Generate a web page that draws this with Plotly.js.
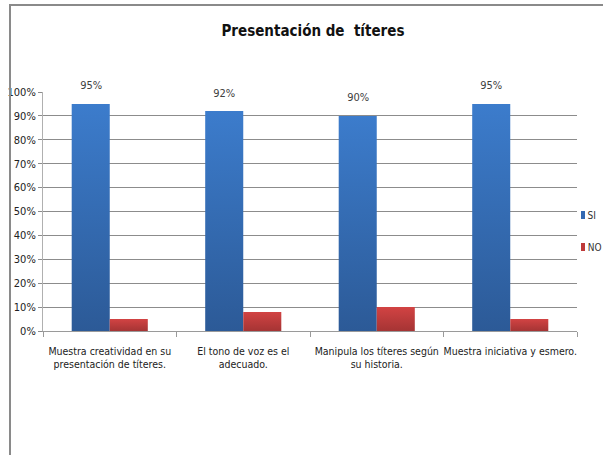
<!DOCTYPE html>
<html><head><meta charset="utf-8">
<script src="https://cdn.plot.ly/plotly-3.0.1.min.js"></script>
<style>
html,body{margin:0;padding:0;background:#fff;overflow:hidden}
#chart{width:603px;height:455px}
#chart text{font-stretch:condensed !important}
#frame{position:absolute;left:9px;top:4px;width:620px;height:470px;border-top:2px solid #8a8a8a;border-left:2px solid #8a8a8a;pointer-events:none}
</style></head>
<body>
<div id="chart"></div>
<div id="frame"></div>
<script>
var categories = [
  "Muestra creatividad en su<br>presentación de títeres.",
  "El tono de voz es el<br>adecuado.",
  "Manipula los títeres según<br>su historia.",
  "Muestra iniciativa y esmero."
];
var siValues = [0.95, 0.92, 0.90, 0.95];
var noValues = [0.05, 0.08, 0.10, 0.05];
var siLabels = ["95%", "92%", "90%", "95%"];
var seriesNames = ["SI", "NO"];
var seriesColors = ["#3469B2", "#BE3A3A"];
var gradTop = ["#3C7CCC", "#D24343"];
var gradBottom = ["#2C5A97", "#A53434"];
var titleText = "Presentación de\u00A0 títeres";

var FONT = '"DejaVu Sans", sans-serif';

var traces = [
  {type:'bar', x:categories, y:siValues, name:seriesNames[0],
   marker:{color:seriesColors[0]}, hoverinfo:'none'},
  {type:'bar', x:categories, y:noValues, name:seriesNames[1],
   marker:{color:seriesColors[1]}, hoverinfo:'none'}
];

// pixel -> paper helpers for the legend keys (plot area 43..577 x 92..331)
function px(x){ return (x - 43) / 534; }
function py(y){ return (331 - y) / 239; }

var annotations = categories.map(function(c, i){
  return {x:c, y:siValues[i], xref:'x', yref:'y', text:siLabels[i], showarrow:false,
    xshift:-19, yshift:18, font:{family:FONT, size:11, color:'#404040'}};
});
var legendY = [215, 247];
var shapes = [];
seriesNames.forEach(function(n, i){
  shapes.push({type:'rect', xref:'paper', yref:'paper', x0:px(581), x1:px(585),
    y0:py(legendY[i]-4), y1:py(legendY[i]+4), fillcolor:seriesColors[i], line:{width:0}});
  annotations.push({xref:'paper', yref:'paper', x:px(585), y:py(legendY[i]), xanchor:'left', yanchor:'middle',
    text:n, showarrow:false, font:{family:FONT, size:10, color:'#333'}});
});

var layout = {
  width:603, height:455,
  margin:{l:43, r:26, t:92, b:124, autoexpand:false},
  paper_bgcolor:'#fff', plot_bgcolor:'#fff',
  font:{family:FONT, size:11, color:'#222'},
  title:{text:titleText, x:0.519, xref:'container', y:0.932, yref:'container', yanchor:'middle',
    font:{family:FONT, size:15, color:'#111', weight:'bold'}},
  barmode:'group', bargap:0.43, bargroupgap:0,
  showlegend:false,
  xaxis:{type:'category', showgrid:false, showline:true, linecolor:'#9a9a9a', linewidth:1,
    ticks:'outside', tickson:'boundaries', ticklen:5, tickcolor:'#9a9a9a', tickangle:0,
    ticklabelstandoff:10,
    tickfont:{family:FONT, size:10.5, color:'#222'}, fixedrange:true},
  yaxis:{range:[0,1], dtick:0.1, tickformat:'.0%', showgrid:true, gridcolor:'#8c8c8c', gridwidth:1,
    showline:true, linecolor:'#b0b0b0', ticks:'outside', ticklen:4, tickcolor:'#8c8c8c',
    tickfont:{family:FONT, size:11, color:'#222'}, zeroline:false, fixedrange:true},
  annotations:annotations,
  shapes:shapes
};

Plotly.newPlot('chart', traces, layout, {staticPlot:true, displayModeBar:false}).then(function(gd){
  var svg = gd.querySelector('svg.main-svg');
  var defs = svg.querySelector('defs');
  var NS = 'http://www.w3.org/2000/svg';
  var ids = [];
  for (var i = 0; i < 2; i++){
    var lg = document.createElementNS(NS, 'linearGradient');
    var id = 'barGrad' + i;
    lg.setAttribute('id', id);
    lg.setAttribute('x1','0'); lg.setAttribute('y1','0'); lg.setAttribute('x2','0'); lg.setAttribute('y2','1');
    [[0, gradTop[i]], [1, gradBottom[i]]].forEach(function(s){
      var st = document.createElementNS(NS, 'stop');
      st.setAttribute('offset', s[0]); st.setAttribute('stop-color', s[1]);
      lg.appendChild(st);
    });
    defs.appendChild(lg);
    ids.push(id);
  }
  var groups = svg.querySelectorAll('.barlayer .trace.bars');
  groups.forEach(function(g, i){
    g.querySelectorAll('.point path').forEach(function(p){
      p.style.fill = 'url(#' + ids[i] + ')';
    });
  });
});
</script>
</body></html>
